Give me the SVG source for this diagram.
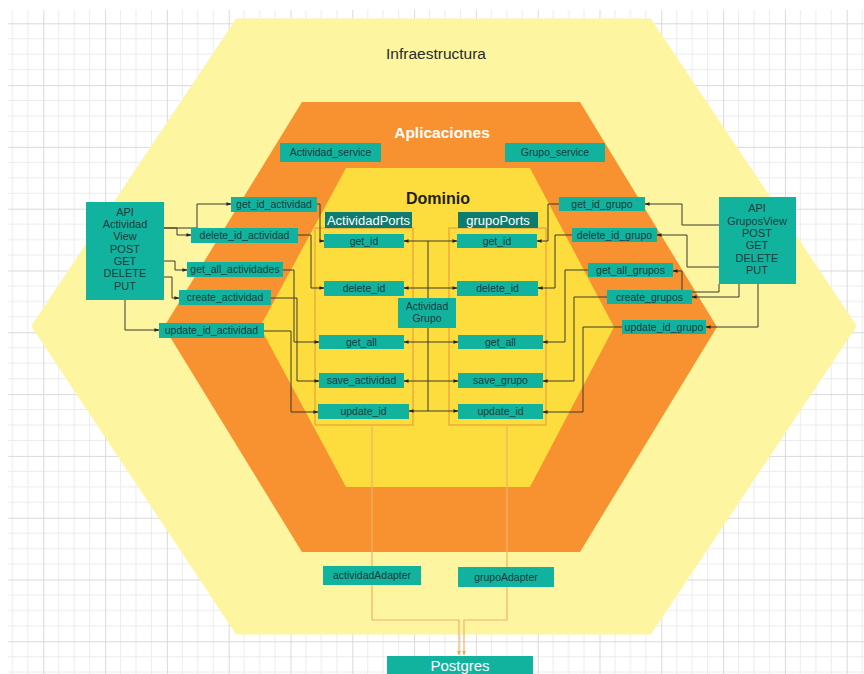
<svg xmlns="http://www.w3.org/2000/svg" width="864" height="674" viewBox="0 0 864 674">
  <style>
    .box { fill: #12b39e; }
    .hdr { fill: #0d7c6f; }
    .lbl { font-family: "Liberation Sans", Arial, sans-serif; font-size: 10.5px; fill: #1d3b3a; text-anchor: middle; }
    .api { font-size: 11px; }
    .lbl-w { font-family: "Liberation Sans", Arial, sans-serif; font-size: 13px; fill: #ffffff; text-anchor: middle; }
    .title { font-family: "Liberation Sans", Arial, sans-serif; text-anchor: middle; }
    .wire { fill: none; stroke: #3a3a2a; stroke-width: 1; }
    .feed { fill: none; stroke: #eeb36a; stroke-width: 1.2; }
    .frame { fill: none; stroke: #e9a23a; stroke-width: 1.2; }
  </style>
  <defs>
    <pattern id="grid" patternUnits="userSpaceOnUse" x="43.3" y="23.3" width="61.8" height="61.8">
      <path d="M15.45 0V61.8M30.9 0V61.8M46.35 0V61.8M0 15.45H61.8M0 30.9H61.8M0 46.35H61.8" stroke="#ececec" stroke-width="1" fill="none"/>
      <path d="M0.5 0V61.8M0 0.5H61.8" stroke="#dadada" stroke-width="1" fill="none"/>
    </pattern>
    <marker id="arr" markerUnits="userSpaceOnUse" markerWidth="5" markerHeight="5" viewBox="0 0 6 6" refX="5.5" refY="3" orient="auto">
      <path d="M0 0.8L6 3L0 5.2Z" fill="#222"/>
    </marker>
    <marker id="arrf" markerUnits="userSpaceOnUse" markerWidth="4.5" markerHeight="4.5" viewBox="0 0 6 6" refX="5.5" refY="3" orient="auto">
      <path d="M0 0.6L6 3L0 5.4Z" fill="#e9a55a"/>
    </marker>
  </defs>

  <!-- canvas -->
  <rect width="864" height="674" fill="#ffffff"/>
  <rect x="8" y="10" width="856" height="664" fill="url(#grid)"/>

  <!-- layers -->
  <g id="infraestructura">
    <polygon points="237,20 650,20 855,326 650,633 237,633 33,326" fill="#fdf59f" stroke="#fdf59f" stroke-width="3" stroke-linejoin="round"/>
    <text class="title" x="436" y="59" font-size="15.5" fill="#2a2a2a">Infraestructura</text>
  </g>
  <g id="aplicaciones">
    <polygon points="302,102 580,102 717,327 580,552 302,552 164,327" fill="#f8912f"/>
    <text class="title" x="442" y="138" font-size="15.5" font-weight="bold" fill="#ffffff">Aplicaciones</text>
  </g>
  <g id="dominio">
    <polygon points="346,168 530,168 614,327 530,487 346,487 260,327" fill="#fddd3e"/>
    <text class="title" x="438" y="204" font-size="16" font-weight="bold" fill="#1e1e1e">Dominio</text>
  </g>

  <!-- port columns -->
  <rect class="frame" x="315" y="228" width="98" height="197"/>
  <rect class="frame" x="449" y="228" width="97" height="197"/>

  <!-- connectors -->
  <g id="connectors">
    <!-- API Actividad View to its actions -->
    <path class="wire" marker-end="url(#arr)" d="M164 228H197V204H231"/>
    <path class="wire" marker-end="url(#arr)" d="M164 228H177V235H191"/>
    <path class="wire" marker-end="url(#arr)" d="M164 261H175V270H187"/>
    <path class="wire" marker-end="url(#arr)" d="M164 277H172V298H179"/>
    <path class="wire" marker-end="url(#arr)" d="M125 300V330H159"/>
    <!-- actions to ActividadPorts -->
    <path class="wire" marker-end="url(#arr)" d="M317 204H320V241H324"/>
    <path class="wire" marker-end="url(#arr)" d="M298 235H311V288H324"/>
    <path class="wire" marker-end="url(#arr)" d="M283 270H294V342H319"/>
    <path class="wire" marker-end="url(#arr)" d="M271 298H297V381H319"/>
    <path class="wire" marker-end="url(#arr)" d="M264 331H291V412H318"/>
    <!-- API GruposView to its actions -->
    <path class="wire" marker-end="url(#arr)" d="M719 225H682V204H645"/>
    <path class="wire" marker-end="url(#arr)" d="M719 267H687V235H657"/>
    <path class="wire" marker-end="url(#arr)" d="M719 284V292H682V271H673"/>
    <path class="wire" marker-end="url(#arr)" d="M739 284V297H692"/>
    <path class="wire" marker-end="url(#arr)" d="M758 284V327H706"/>
    <!-- actions to grupoPorts -->
    <path class="wire" marker-end="url(#arr)" d="M559 204H548V241H537"/>
    <path class="wire" marker-end="url(#arr)" d="M572 235H555V288H538"/>
    <path class="wire" marker-end="url(#arr)" d="M588 270H565V342H543"/>
    <path class="wire" marker-end="url(#arr)" d="M607 297H574V381H543"/>
    <path class="wire" marker-end="url(#arr)" d="M622 327H583V412H543"/>
    <!-- entities to both port sets -->
    <path class="wire" d="M428 241V411"/>
    <path class="wire" marker-end="url(#arr)" d="M428 241H404"/>
    <path class="wire" marker-end="url(#arr)" d="M428 241H457"/>
    <path class="wire" marker-end="url(#arr)" d="M428 288H404"/>
    <path class="wire" marker-end="url(#arr)" d="M428 288H457"/>
    <path class="wire" marker-end="url(#arr)" d="M428 342H404"/>
    <path class="wire" marker-end="url(#arr)" d="M428 342H458"/>
    <path class="wire" marker-end="url(#arr)" d="M428 381H404"/>
    <path class="wire" marker-end="url(#arr)" d="M428 381H458"/>
    <path class="wire" marker-end="url(#arr)" d="M428 411H409"/>
    <path class="wire" marker-end="url(#arr)" d="M428 411H458"/>
    <!-- adapters to Postgres -->
    <path class="feed" marker-end="url(#arrf)" d="M372 425V620H459V655"/>
    <path class="feed" marker-end="url(#arrf)" d="M507 425V620H464V655"/>
  </g>

  <!-- actividad side -->
  <g id="api-actividad">
    <rect class="box" x="86" y="202" width="78" height="98"/>
    <text class="lbl api" x="125" y="216">API</text>
    <text class="lbl api" x="125" y="228">Actividad</text>
    <text class="lbl api" x="125" y="240">View</text>
    <text class="lbl api" x="125" y="253">POST</text>
    <text class="lbl api" x="125" y="265">GET</text>
    <text class="lbl api" x="125" y="277">DELETE</text>
    <text class="lbl api" x="125" y="290">PUT</text>
  </g>
  <g id="get-id-actividad"><rect class="box" x="231" y="197" width="86" height="15"/><text class="lbl" x="274" y="208">get_id_actividad</text></g>
  <g id="delete-id-actividad"><rect class="box" x="191" y="228" width="107" height="15"/><text class="lbl" x="244.5" y="239">delete_id_actividad</text></g>
  <g id="get-all-actividades"><rect class="box" x="187" y="262" width="96" height="15"/><text class="lbl" x="235" y="273">get_all_actividades</text></g>
  <g id="create-actividad"><rect class="box" x="179" y="290" width="92" height="15"/><text class="lbl" x="225" y="301">create_actividad</text></g>
  <g id="update-id-actividad"><rect class="box" x="159" y="323" width="105" height="15"/><text class="lbl" x="211.5" y="334">update_id_actividad</text></g>

  <!-- grupo side -->
  <g id="api-grupos">
    <rect class="box" x="719" y="197" width="77" height="87"/>
    <text class="lbl api" x="757" y="212">API</text>
    <text class="lbl api" x="757" y="225">GruposView</text>
    <text class="lbl api" x="757" y="237">POST</text>
    <text class="lbl api" x="757" y="249">GET</text>
    <text class="lbl api" x="757" y="262">DELETE</text>
    <text class="lbl api" x="757" y="274">PUT</text>
  </g>
  <g id="get-id-grupo"><rect class="box" x="559" y="197" width="86" height="14"/><text class="lbl" x="602" y="207.5">get_id_grupo</text></g>
  <g id="delete-id-grupo"><rect class="box" x="572" y="228" width="85" height="14"/><text class="lbl" x="614.5" y="238.5">delete_id_grupo</text></g>
  <g id="get-all-grupos"><rect class="box" x="588" y="263" width="85" height="14"/><text class="lbl" x="630.5" y="273.5">get_all_grupos</text></g>
  <g id="create-grupos"><rect class="box" x="607" y="290" width="85" height="14"/><text class="lbl" x="649.5" y="300.5">create_grupos</text></g>
  <g id="update-id-grupo"><rect class="box" x="622" y="320" width="84" height="14"/><text class="lbl" x="664" y="330.5">update_id_grupo</text></g>

  <!-- services -->
  <g id="actividad-service"><rect class="box" x="280" y="143" width="101" height="19"/><text class="lbl" x="330.5" y="156" font-size="10">Actividad_service</text></g>
  <g id="grupo-service"><rect class="box" x="505" y="143" width="100" height="19"/><text class="lbl" x="555" y="156" font-size="10">Grupo_service</text></g>

  <!-- ports -->
  <g id="actividad-ports"><rect class="hdr" x="325" y="212" width="87" height="16"/><text class="lbl-w" x="368.5" y="224.5">ActividadPorts</text></g>
  <g id="grupo-ports"><rect class="hdr" x="458" y="212" width="80" height="16"/><text class="lbl-w" x="498" y="224.5">grupoPorts</text></g>

  <g id="a-get-id"><rect class="box" x="324" y="234" width="80" height="14"/><text class="lbl" x="364" y="244.5">get_id</text></g>
  <g id="a-delete-id"><rect class="box" x="324" y="281" width="80" height="15"/><text class="lbl" x="364" y="292">delete_id</text></g>
  <g id="a-get-all"><rect class="box" x="319" y="335" width="85" height="14"/><text class="lbl" x="361.5" y="345.5">get_all</text></g>
  <g id="a-save"><rect class="box" x="319" y="373" width="85" height="15"/><text class="lbl" x="361.5" y="384">save_actividad</text></g>
  <g id="a-update-id"><rect class="box" x="318" y="404" width="91" height="15"/><text class="lbl" x="363.5" y="415">update_id</text></g>

  <g id="g-get-id"><rect class="box" x="457" y="234" width="80" height="14"/><text class="lbl" x="497" y="244.5">get_id</text></g>
  <g id="g-delete-id"><rect class="box" x="457" y="281" width="81" height="15"/><text class="lbl" x="497.5" y="292">delete_id</text></g>
  <g id="g-get-all"><rect class="box" x="458" y="335" width="85" height="14"/><text class="lbl" x="500.5" y="345.5">get_all</text></g>
  <g id="g-save"><rect class="box" x="458" y="373" width="85" height="15"/><text class="lbl" x="500.5" y="384">save_grupo</text></g>
  <g id="g-update-id"><rect class="box" x="458" y="404" width="85" height="15"/><text class="lbl" x="500.5" y="415">update_id</text></g>

  <g id="actividad-grupo">
    <rect class="box" x="398" y="298" width="58" height="30"/>
    <text class="lbl" x="427" y="310">Actividad</text>
    <text class="lbl" x="427" y="322">Grupo</text>
  </g>

  <!-- adapters and storage -->
  <g id="actividad-adapter"><rect class="box" x="323" y="566" width="98" height="19"/><text class="lbl" x="372" y="579">actividadAdapter</text></g>
  <g id="grupo-adapter"><rect class="box" x="458" y="567" width="96" height="20"/><text class="lbl" x="506" y="581">grupoAdapter</text></g>
  <g id="postgres">
    <rect class="box" x="387" y="656" width="146" height="22"/>
    <text class="title" x="460" y="671" font-size="15" fill="#ffffff">Postgres</text>
  </g>
</svg>
